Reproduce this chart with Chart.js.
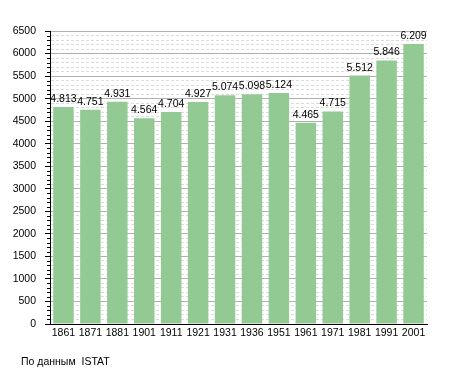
<!DOCTYPE html>
<html>
<head>
<meta charset="utf-8">
<script src="https://cdn.jsdelivr.net/npm/chart.js@4/dist/chart.umd.min.js"></script>
<style>
    body { margin: 0; background: #fff; }
    #wrap { position: relative; width: 455px; height: 373px; }
    #source {
        position: absolute;
        left: 21px;
        top: 355px;
        font: 10.5px "Liberation Sans", Arial, sans-serif;
        color: #000;
        white-space: pre;
    }
</style>
</head>
<body>
<div id="wrap">
    <canvas id="chart" width="455" height="373"></canvas>
    <div id="source">По данным  ISTAT</div>
</div>
<script>
const years = ['1861', '1871', '1881', '1901', '1911', '1921', '1931', '1936', '1951', '1961', '1971', '1981', '1991', '2001'];
const population = [4813, 4751, 4931, 4564, 4704, 4927, 5074, 5098, 5124, 4465, 4715, 5512, 5846, 6209];
const yMax = 6500;
const majorStep = 500;
const minorStep = 100;

const FONT = '"Liberation Sans", Arial, sans-serif';

// value labels above bars, and short minor ticks on the y axis
const extras = {
    id: 'extras',
    afterDatasetsDraw(chart) {
        const ctx = chart.ctx;
        const meta = chart.getDatasetMeta(0);
        ctx.save();
        ctx.font = '10.5px ' + FONT;
        ctx.fillStyle = '#000';
        ctx.textAlign = 'center';
        ctx.textBaseline = 'alphabetic';
        meta.data.forEach((bar, i) => {
            const txt = population[i].toLocaleString('de-DE');
            ctx.fillText(txt, bar.x, bar.y - 5);
        });

        const y = chart.scales.y;
        ctx.strokeStyle = '#000';
        ctx.lineWidth = 1;
        ctx.beginPath();
        y.ticks.forEach(t => {
            if (t.value % majorStep !== 0) {
                const py = Math.round(y.getPixelForValue(t.value)) + 0.5;
                ctx.moveTo(y.right - 3, py);
                ctx.lineTo(y.right, py);
            }
        });
        ctx.stroke();
        ctx.restore();
    }
};

new Chart(document.getElementById('chart'), {
    type: 'bar',
    data: {
        labels: years,
        datasets: [{
            data: population,
            backgroundColor: '#93ca93',
            borderWidth: 0,
            categoryPercentage: 1,
            barPercentage: 0.76
        }]
    },
    options: {
        responsive: false,
        animation: false,
        layout: {
            padding: {left: 0, right: 28, top: 31, bottom: 27}
        },
        plugins: {
            legend: {display: false},
            tooltip: {enabled: false}
        },
        scales: {
            x: {
                grid: {display: false, drawTicks: false},
                border: {display: true, color: '#000', width: 1},
                ticks: {
                    color: '#000',
                    padding: 3,
                    maxRotation: 0,
                    autoSkip: false,
                    font: {family: FONT, size: 10.5}
                },
                afterFit(scale) { scale.height = 22; }
            },
            y: {
                min: 0,
                max: yMax,
                grid: {
                    color: c => c.tick && c.tick.value % majorStep === 0 ? '#b0b0b0' : '#dcdcdc',
                    tickColor: c => c.tick && c.tick.value % majorStep === 0 ? '#000' : 'rgba(0,0,0,0)',
                    tickLength: 5,
                    lineWidth: 1
                },
                border: {
                    display: true,
                    color: '#000',
                    width: 1,
                    dash: c => c.tick && c.tick.value % majorStep === 0 ? [] : [3, 2]
                },
                ticks: {
                    stepSize: minorStep,
                    autoSkip: false,
                    color: '#000',
                    padding: 9,
                    font: {family: FONT, size: 10.5},
                    callback: v => v % majorStep === 0 ? String(v) : ''
                },
                afterFit(scale) { scale.width = 50; }
            }
        }
    },
    plugins: [extras]
});
</script>
</body>
</html>
